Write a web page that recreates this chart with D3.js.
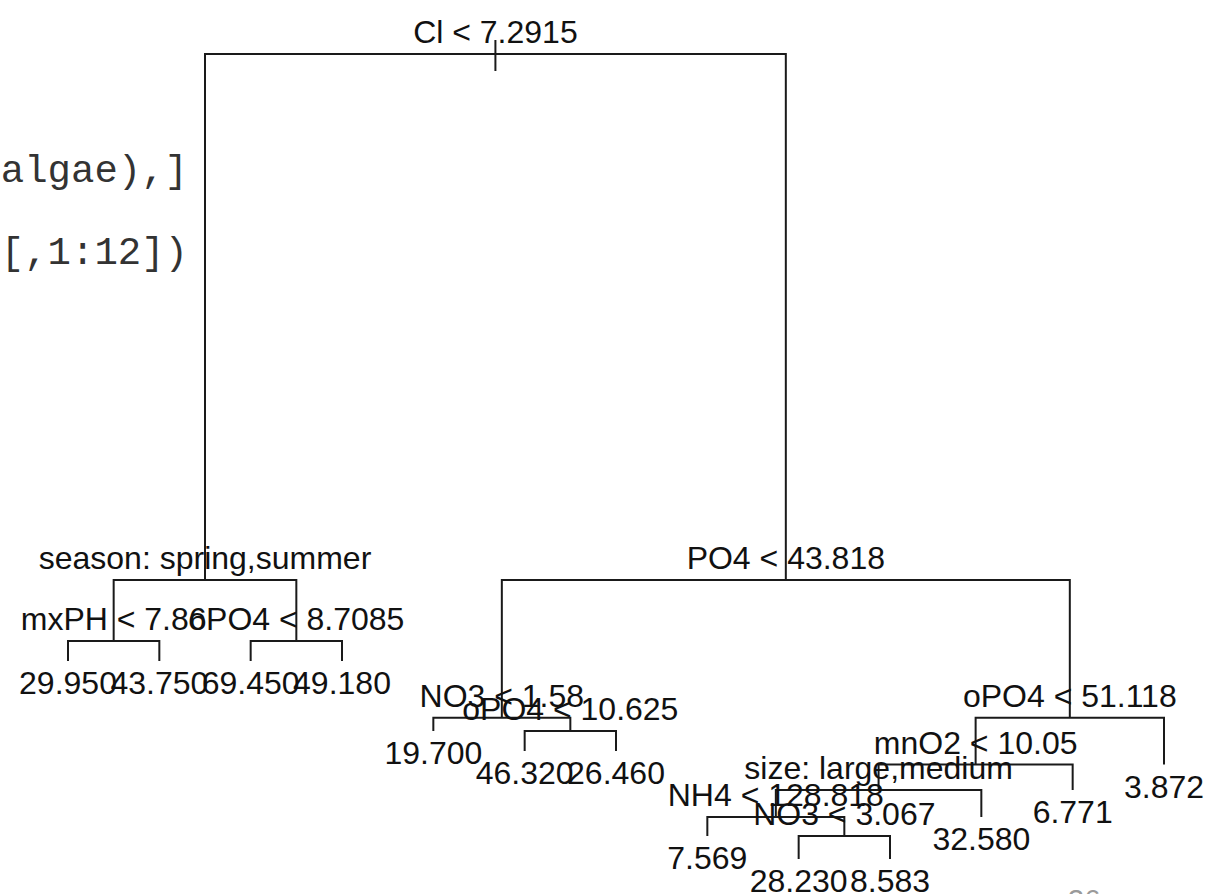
<!DOCTYPE html>
<html>
<head>
<meta charset="utf-8">
<script src="https://cdn.jsdelivr.net/npm/d3@7"></script>
<style>
  html, body { margin: 0; padding: 0; background: #fff; }
  svg { display: block; }
  .branch { fill: none; stroke: #1a1a1a; stroke-width: 2; }
  .lbl { font-family: "Liberation Sans", Arial, Helvetica, sans-serif; font-size: 32px; fill: #111; }
  .code { font-family: "Liberation Mono", "Courier New", monospace; font-size: 39px; fill: #333; }
  .page { font-family: "Liberation Sans", Arial, sans-serif; font-size: 29px; fill: #9a9a9a; }
</style>
</head>
<body>
<svg id="chart" width="1213" height="894"></svg>
<script>
// tree nodes, R numbering (children of n are 2n and 2n+1)
const nodeIds = [1, 2, 3, 4, 5, 6, 7, 8, 9, 10, 11, 12, 13, 14, 15, 26, 27, 28, 29, 56, 57, 112, 113, 226, 227];

const nodeLabels = [
    "Cl < 7.2915", "season: spring,summer", "PO4 < 43.818", "mxPH < 7.86", "oPO4 < 8.7085",
    "NO3 < 1.58", "oPO4 < 51.118", "29.950", "43.750", "69.450", "49.180", "19.700",
    "oPO4 < 10.625", "mnO2 < 10.05", "3.872", "46.320", "26.460", "size: large,medium",
    "6.771", "NH4 < 128.818", "32.580", "7.569", "NO3 < 3.067", "28.230", "8.583"
];

// plot height of each node (deviance scale)
const nodeDev = [
    90401, 50935, 50935, 46358, 46358, 40604, 40604, 44858, 44858, 44858, 44858, 39606,
    39606, 37092, 37092, 38105, 38105, 35179, 35179, 33153, 33153, 31728, 31728, 30002, 30002
];

// code fragments on the slide
const codeLines = ["algae),]", "[,1:12])"];
const pageNumber = "36";

const svg = d3.select("#chart");

let byId = new Map();
nodeIds.forEach((id, i) => byId.set(id, { id: id, label: nodeLabels[i], dev: nodeDev[i] }));
byId.forEach(n => {
    n.kids = [2 * n.id, 2 * n.id + 1].filter(k => byId.has(k)).map(k => byId.get(k));
});

// leaves get consecutive positions from left to right, splits sit midway
let leafCount = 0;
function place(n) {
    if (n.kids.length === 0) {
        n.pos = leafCount++;
    } else {
        n.kids.forEach(place);
        n.pos = d3.mean(n.kids, k => k.pos);
    }
}
const root = byId.get(1);
place(root);

const xscale = d3.scaleLinear().domain([0, leafCount - 1]).range([68, 1164]);
const yscale = d3.scaleLinear().domain([90401, 30002]).range([54, 859]);

const g = svg.append("g");

// branches: for every split a down-hanging bracket
let splits = Array.from(byId.values()).filter(n => n.kids.length);
splits.forEach(n => {
    let a = n.kids[0], b = n.kids[1];
    let path = d3.path();
    path.moveTo(xscale(a.pos), yscale(a.dev));
    path.lineTo(xscale(a.pos), yscale(n.dev));
    path.lineTo(xscale(b.pos), yscale(n.dev));
    path.lineTo(xscale(b.pos), yscale(b.dev));
    g.append("path").attr("class", "branch").attr("d", path.toString());
});

// stub through the root
g.append("line")
    .attr("class", "branch")
    .attr("x1", xscale(root.pos)).attr("x2", xscale(root.pos))
    .attr("y1", yscale(root.dev) - 14).attr("y2", yscale(root.dev) + 17);

// split labels above their node
g.selectAll(".split")
    .data(splits)
    .enter().append("text")
    .attr("class", "lbl split")
    .attr("text-anchor", "middle")
    .attr("x", d => xscale(d.pos))
    .attr("y", d => yscale(d.dev) - 11)
    .text(d => d.label);

// leaf values below the end of their branch
let leaves = Array.from(byId.values()).filter(n => !n.kids.length);
g.selectAll(".leaf")
    .data(leaves)
    .enter().append("text")
    .attr("class", "lbl leaf")
    .attr("text-anchor", "middle")
    .attr("x", d => xscale(d.pos))
    .attr("y", d => yscale(d.dev) + 33)
    .text(d => d.label);

svg.selectAll(".code")
    .data(codeLines)
    .enter().append("text")
    .attr("class", "code")
    .attr("text-anchor", "end")
    .attr("x", 188)
    .attr("y", (d, i) => 182 + i * 82)
    .text(d => d);

svg.append("text")
    .attr("class", "page")
    .attr("x", 1068)
    .attr("y", 910)
    .text(pageNumber);
</script>
</body>
</html>
